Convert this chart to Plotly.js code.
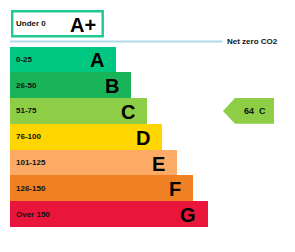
<!DOCTYPE html>
<html>
<head>
<meta charset="utf-8">
<script src="https://cdn.plot.ly/plotly-3.0.1.min.js"></script>
<style>html,body{margin:0;padding:0;background:#fff;}#chart{width:295px;height:252px;}</style>
</head>
<body>
<div id="chart"></div>
<script>
// ---- data ----
const bands = ['A', 'B', 'C', 'D', 'E', 'F', 'G'];
const ranges = ['0-25', '26-50', '51-75', '76-100', '101-125', '126-150', 'Over 150'];
const barLengths = [106, 121, 137, 152, 167, 183, 198];
const bandColors = ['#00c781', '#19b459', '#8dce46', '#ffd500', '#fcaa65', '#ef8023', '#e9153b'];
const topBand = 'A+';
const topRange = 'Under 0';
const topLength = 90.5;
const netZeroLabel = 'Net zero CO2';
const score = 64;
const rating = 'C';

// ---- layout helpers ----
const FONT = 'Liberation Sans, Arial, sans-serif';
const rows = bands.map((b, i) => i);
const topRow = -1.384;
const netZeroRow = -0.694;

const traces = [
  {
    type: 'bar', orientation: 'h',
    y: rows, x: barLengths, width: 1,
    marker: {color: bandColors, line: {width: 0}},
    hoverinfo: 'none', showlegend: false
  },
  {
    type: 'bar', orientation: 'h',
    y: [topRow], x: [topLength], base: 2.2, width: 0.97,
    marker: {color: 'rgba(255,255,255,0)', line: {color: '#1fc98c', width: 2.4}},
    hoverinfo: 'none', showlegend: false
  }
];

const annotations = [];
bands.forEach((b, i) => {
  annotations.push({x: 4, y: rows[i], xref: 'x', yref: 'y', text: ranges[i], showarrow: false,
    xanchor: 'left', yanchor: 'middle', font: {family: FONT, size: 8, color: '#111'}});
  annotations.push({x: barLengths[i] - 10, y: rows[i], xref: 'x', yref: 'y', text: b, showarrow: false,
    xanchor: 'right', yanchor: 'middle', font: {family: FONT, size: 20, color: '#000'}, yshift: -1});
});
annotations.push({x: 4, y: topRow, xref: 'x', yref: 'y', text: topRange, showarrow: false,
  xanchor: 'left', yanchor: 'middle', font: {family: FONT, size: 8, color: '#111'}});
annotations.push({x: 87.5, y: topRow, xref: 'x', yref: 'y', text: topBand, showarrow: false,
  xanchor: 'right', yanchor: 'middle', font: {family: FONT, size: 20, color: '#000'}, yshift: -1});
annotations.push({x: 214.5, y: netZeroRow, xref: 'x', yref: 'y', text: netZeroLabel, showarrow: false,
  xanchor: 'left', yanchor: 'middle', font: {family: FONT, size: 8, color: '#111'}});

const r = bands.indexOf(rating);
const arrowColor = bandColors[r];
annotations.push({x: 245, y: r, xref: 'x', yref: 'y', text: score + '\u00a0\u00a0' + rating, showarrow: false,
  xanchor: 'center', yanchor: 'middle', font: {family: FONT, size: 9, color: '#111'}});

const shapes = [
  {type: 'line', xref: 'x', yref: 'y', x0: 0, x1: 212.5, y0: netZeroRow, y1: netZeroRow,
    line: {color: '#b0dbe8', width: 2.2}},
  {type: 'path', xref: 'x', yref: 'y',
    path: `M 213,${r} L 225,${r - 0.5} L 264,${r - 0.5} L 264,${r + 0.5} L 225,${r + 0.5} Z`,
    fillcolor: arrowColor, line: {width: 0}}
];

const layout = {
  width: 295, height: 252,
  margin: {l: 10, r: 0, t: 0, b: 0, pad: 0},
  paper_bgcolor: '#fff', plot_bgcolor: '#fff',
  barmode: 'overlay', bargap: 0,
  font: {family: FONT, weight: 'bold'},
  xaxis: {range: [0, 285], visible: false, fixedrange: true},
  yaxis: {range: [7.468, -2.303], visible: false, fixedrange: true},
  annotations: annotations.map(a => Object.assign(a, {font: Object.assign(a.font, {weight: 'bold'})})),
  shapes: shapes,
  showlegend: false
};

Plotly.newPlot('chart', traces, layout, {staticPlot: true, displayModeBar: false});
</script>
</body>
</html>
